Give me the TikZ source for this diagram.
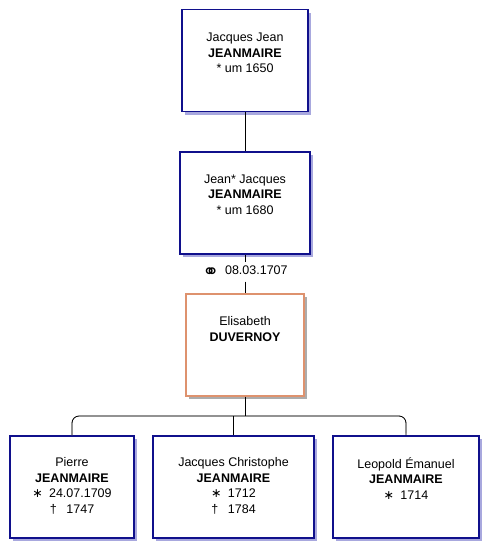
\documentclass[tikz,border=0pt]{standalone}
\usepackage{fontspec}
\setmainfont{Liberation Sans}
\newfontfamily\symfont{DejaVu Sans}
\usepackage{xcolor}
\usepackage{tikz}
\usetikzlibrary{calc}

\definecolor{boxblue}{RGB}{16,16,140}
\definecolor{shadeblue}{RGB}{168,168,222}
\definecolor{spouseline}{RGB}{222,146,110}
\definecolor{shadegrey}{RGB}{172,172,172}
\definecolor{linkgrey}{RGB}{176,176,176}

\begin{document}
\begin{tikzpicture}[
    x=1pt, y=-1pt,
    card/.style={rectangle, fill=white, line width=1.1pt, minimum height=102pt, inner sep=0pt},
    person/.style={card, draw=boxblue, preaction={fill=shadeblue, transform canvas={shift={(3pt,-3pt)}}}},
    spouse/.style={card, draw=spouseline, preaction={fill=shadegrey, transform canvas={shift={(3pt,-3pt)}}}},
    info/.style={anchor=north, align=center, inner sep=0pt, font=\fontsize{12.5}{15.5}\selectfont},
    link/.style={draw=black, line width=0.8pt},
    shade/.style={draw=linkgrey, line width=0.8pt, xshift=2pt, yshift=-2pt, shorten >=2pt}
]
    \useasboundingbox (0,0) rectangle (499,558);

    % ancestors
    \node[person, minimum width=126pt] (jj) at (245,60.5) {};
    \node[person, minimum width=130pt] (jjs) at (245,203) {};
    \node[spouse, minimum width=118pt] (eli) at (245,345) {};

    % children
    \node[person, minimum width=124pt] (pierre) at (72,487) {};
    \node[person, minimum width=161pt] (jchr) at (233.5,487) {};
    \node[person, minimum width=146pt] (leo) at (406,487) {};

    \node[info] (jjt) at ([yshift=-24pt]jj.north) {Jacques Jean\\\textbf{JEANMAIRE}\\* um 1650};
    \node[info] (jjst) at ([yshift=-23pt]jjs.north) {Jean* Jacques\\\textbf{JEANMAIRE}\\* um 1680};
    \node[info] (elit) at ([yshift=-23pt]eli.north) {Elisabeth\\\textbf{DUVERNOY}};
    \node[info] (pierret) at ([yshift=-22pt]pierre.north) {Pierre\\\textbf{JEANMAIRE}\\{\symfont ∗}\enspace 24.07.1709\\† \enspace1747};
    \node[info] (jchrt) at ([yshift=-22pt]jchr.north) {Jacques Christophe\\\textbf{JEANMAIRE}\\{\symfont ∗}\enspace 1712\\† \enspace1784};
    \node[info] (leot) at ([yshift=-22pt]leo.north) {Leopold Émanuel\\\textbf{JEANMAIRE}\\{\symfont ∗}\enspace 1714};

    \node[fill=white, inner xsep=1pt, inner ysep=3pt, font=\fontsize{12.5}{15}\selectfont] (wed) at (245,272) {\raisebox{-4pt}{\symfont\fontsize{20}{15}\selectfont ⚭}\hspace{6pt}08.03.1707};
    \coordinate (bar) at (245,416);

    % lines
    \draw[shade] (jj.south) -- (jjs.north);
    \draw[link] (jj.south) -- (jjs.north);
    \draw[shade] (jjs.south) -- (wed.north);
    \draw[shade] (wed.south) -- (eli.north);
    \draw[link] (jjs.south) -- (wed.north);
    \draw[link] (wed.south) -- (eli.north);

    \draw[shade, rounded corners=7pt] (pierre.north) -- (pierre.north |- bar) -- (leo.north |- bar) -- (leo.north);
    \draw[shade] (eli.south) -- (bar);
    \draw[shade] (bar -| jchr.north) -- (jchr.north);
    \draw[link, rounded corners=7pt] (pierre.north) -- (pierre.north |- bar) -- (leo.north |- bar) -- (leo.north);
    \draw[link] (eli.south) -- (bar);
    \draw[link] (bar -| jchr.north) -- (jchr.north);
\end{tikzpicture}
\end{document}
